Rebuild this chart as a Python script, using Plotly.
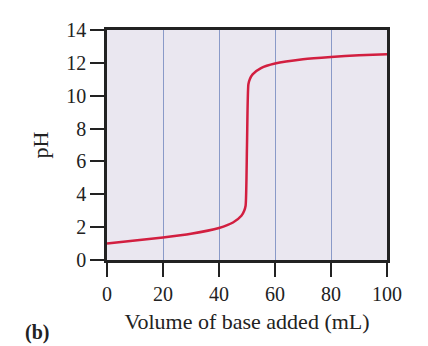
import plotly.graph_objects as go

# Titration curve: volume of base added (mL) vs pH
volume_ml = [0, 10, 20, 30, 40, 45, 48, 49, 49.5, 50, 50.5, 51, 52, 55, 60, 70, 80, 90, 100]
ph_values = [1.0, 1.18, 1.37, 1.6, 1.95, 2.28, 2.69, 3.0, 3.3, 7.0, 10.7, 11.0, 11.3, 11.68, 11.96, 12.22, 12.36, 12.46, 12.52]

x_ticks = [0, 20, 40, 60, 80, 100]
y_ticks = [0, 2, 4, 6, 8, 10, 12, 14]

serif = "Liberation Serif, Times New Roman, serif"
ink = "#222222"

fig = go.Figure()
fig.add_trace(go.Scatter(
    x=volume_ml, y=ph_values, mode="lines",
    line=dict(color="#d21f40", width=2.5, shape="spline", smoothing=0.6),
    hoverinfo="skip", showlegend=False,
))

axis_common = dict(
    showline=True, linecolor=ink, linewidth=2.5, mirror=True,
    ticks="outside", ticklen=14, tickwidth=1.5, tickcolor=ink,
    tickfont=dict(family=serif, size=20, color=ink),
    zeroline=False,
)

fig.update_layout(
    width=428, height=346,
    margin=dict(l=107, r=41, t=30, b=86),
    paper_bgcolor="white", plot_bgcolor="#eae7f0",
    xaxis=dict(
        range=[0, 100], tickvals=x_ticks,
        showgrid=True, gridcolor="#8a9ac8", gridwidth=1,
        title=dict(text="Volume of base added (mL)", font=dict(family=serif, size=22, color=ink), standoff=10),
        **axis_common,
    ),
    yaxis=dict(
        range=[0, 14], tickvals=y_ticks, showgrid=False,
        title=dict(text="pH", font=dict(family=serif, size=22, color=ink), standoff=12),
        **axis_common,
    ),
    annotations=[dict(
        text="<b>(b)</b>", xref="paper", yref="paper", x=-0.3, y=-0.372,
        xanchor="left", yanchor="bottom", showarrow=False,
        font=dict(family=serif, size=20, color=ink),
    )],
)

fig.write_html("out.html")
